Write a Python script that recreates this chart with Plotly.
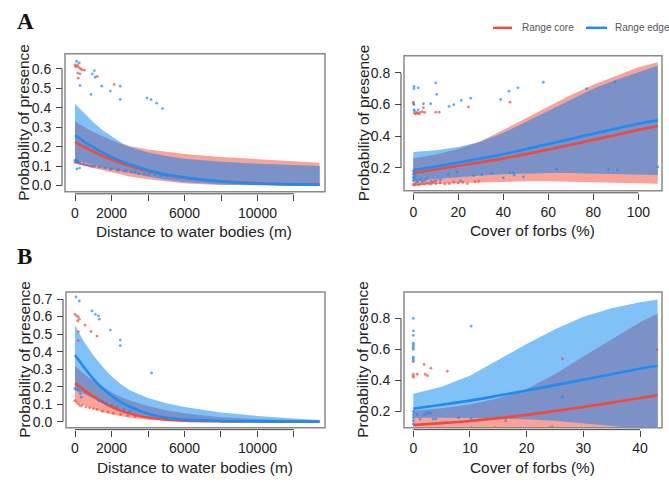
import numpy as np
import plotly.graph_objects as go

# ---------------- Data ----------------
# Panel A, left: distance to water bodies
a_dist_x = [0, 500, 1000, 1500, 2000, 2500, 3000, 4000, 5000, 6000, 8000, 10000, 12000, 13400]
a_dist_core_fit = [0.225, 0.198, 0.175, 0.153, 0.134, 0.116, 0.101, 0.075, 0.055, 0.040, 0.022, 0.012, 0.007, 0.005]
a_dist_edge_fit = [0.258, 0.225, 0.196, 0.170, 0.147, 0.127, 0.109, 0.079, 0.057, 0.041, 0.021, 0.011, 0.006, 0.004]
a_dist_core_hi = [0.33, 0.30, 0.275, 0.252, 0.232, 0.215, 0.203, 0.185, 0.172, 0.162, 0.147, 0.135, 0.124, 0.117]
a_dist_core_lo = [0.115, 0.102, 0.090, 0.078, 0.067, 0.057, 0.047, 0.032, 0.020, 0.011, 0.003, 0.001, 0.0, 0.0]
a_dist_edge_hi = [0.42, 0.37, 0.325, 0.285, 0.252, 0.223, 0.198, 0.170, 0.152, 0.138, 0.122, 0.112, 0.104, 0.100]
a_dist_edge_lo = [0.13, 0.118, 0.106, 0.095, 0.084, 0.074, 0.064, 0.046, 0.030, 0.018, 0.005, 0.002, 0.001, 0.0005]

a_dist_core_pts_x = [0, 40, 90, 150, 220, 300, 370, 510, 146, 180, 1220, 2150,
                     0, 60, 120, 200, 300, 450, 600, 800, 1000, 1300, 1600, 1900, 2300, 2700, 3100, 3500, 4000]
a_dist_core_pts_y = [0.619, 0.61, 0.612, 0.62, 0.607, 0.60, 0.595, 0.592, 0.578, 0.551, 0.56, 0.519,
                     0.12, 0.118, 0.122, 0.115, 0.112, 0.11, 0.105, 0.10, 0.098, 0.095, 0.09, 0.085, 0.08, 0.075, 0.07, 0.06, 0.055]
a_dist_edge_pts_x = [93, 236, 274, 948, 1058, 1100, 274, 1463, 2482, 877, 1934, 2482, 3945, 4164, 4471, 4800,
                     0, 30, 80, 150, 200, 250, 100, 250, 500, 700, 900, 1100, 1400, 1700, 2000, 2400, 2800, 3300, 3800, 4100, 4400, 4700, 5000]
a_dist_edge_pts_y = [0.638, 0.63, 0.573, 0.573, 0.59, 0.556, 0.514, 0.51, 0.51, 0.468, 0.485, 0.442, 0.449, 0.441, 0.423, 0.395,
                     0.13, 0.125, 0.128, 0.122, 0.12, 0.118, 0.085, 0.09, 0.11, 0.105, 0.10, 0.10, 0.095, 0.09, 0.085, 0.08, 0.075, 0.07, 0.06, 0.065, 0.055, 0.05, 0.048]

# Panel A, right: cover of forbs
a_forb_x = [0, 10, 20, 30, 40, 50, 60, 70, 80, 90, 100, 108.6]
a_forb_core_fit = [0.168, 0.19, 0.213, 0.236, 0.26, 0.287, 0.316, 0.346, 0.377, 0.408, 0.44, 0.465]
a_forb_edge_fit = [0.186, 0.209, 0.234, 0.259, 0.286, 0.318, 0.351, 0.383, 0.416, 0.448, 0.479, 0.50]
a_forb_core_hi = [0.26, 0.285, 0.32, 0.37, 0.44, 0.515, 0.59, 0.66, 0.725, 0.78, 0.835, 0.867]
a_forb_core_lo = [0.09, 0.098, 0.105, 0.11, 0.113, 0.115, 0.115, 0.113, 0.11, 0.107, 0.103, 0.10]
a_forb_edge_hi = [0.30, 0.312, 0.332, 0.365, 0.42, 0.49, 0.565, 0.635, 0.70, 0.755, 0.805, 0.846]
a_forb_edge_lo = [0.118, 0.13, 0.142, 0.152, 0.16, 0.165, 0.167, 0.167, 0.165, 0.162, 0.158, 0.155]

a_forb_core_pts_x = [0, 0, 0.5, 1, 1.5, 2, 2.5, 3, 4, 4.5, 5, 10, 11.5, 24.5, 43,
                     0, 0.5, 1, 2, 3, 4, 5, 6, 7, 8, 9, 10, 12, 14, 16, 18, 20, 22, 24, 27.4, 29]
a_forb_core_pts_y = [0.615, 0.605, 0.545, 0.54, 0.55, 0.545, 0.54, 0.55, 0.555, 0.58, 0.55, 0.552, 0.552, 0.585, 0.615,
                     0.095, 0.09, 0.10, 0.092, 0.095, 0.10, 0.097, 0.105, 0.10, 0.098, 0.11, 0.10, 0.105, 0.098, 0.10, 0.11, 0.105, 0.108, 0.10, 0.112, 0.115]
a_forb_edge_pts_x = [0.3, 0.3, 2.2, 10, 10.4, 0.3, 0.3, 0.5, 2.1, 4.5, 7.7, 15.9, 18, 21.3, 25.5, 38.8, 42.5, 46.5, 57.8, 77, 89.6,
                     0, 0, 0, 0, 0.5, 1, 1.5, 2, 3, 4, 5, 6, 8, 10, 12, 15.6, 19.3, 21, 26.7, 30.4, 34.8, 40, 42.9, 44.5, 44.8, 48.9, 63.7, 86.7, 90.7, 108.6]
a_forb_edge_pts_y = [0.714, 0.70, 0.706, 0.737, 0.664, 0.599, 0.567, 0.56, 0.567, 0.605, 0.605, 0.588, 0.599, 0.626, 0.64, 0.632, 0.684, 0.706, 0.741, 0.70, 0.741,
                     0.18, 0.16, 0.14, 0.12, 0.13, 0.15, 0.12, 0.11, 0.125, 0.115, 0.12, 0.13, 0.115, 0.12, 0.125, 0.16, 0.175, 0.12, 0.15, 0.158, 0.165, 0.137, 0.168, 0.17, 0.155, 0.143, 0.192, 0.19, 0.186, 0.206]

# Panel B, left: distance to water bodies
b_dist_x = [0, 250, 500, 1000, 1500, 2000, 2500, 3000, 4000, 5000, 6000, 8000, 10000, 12000, 13400]
b_dist_core_fit = [0.22, 0.20, 0.18, 0.145, 0.113, 0.085, 0.063, 0.047, 0.024, 0.012, 0.006, 0.002, 0.001, 0.0, 0.0]
b_dist_edge_fit = [0.38, 0.345, 0.31, 0.245, 0.192, 0.148, 0.113, 0.085, 0.045, 0.022, 0.012, 0.004, 0.002, 0.001, 0.0005]
b_dist_core_hi = [0.32, 0.295, 0.272, 0.232, 0.197, 0.167, 0.142, 0.121, 0.09, 0.066, 0.048, 0.026, 0.015, 0.009, 0.006]
b_dist_core_lo = [0.12, 0.107, 0.095, 0.074, 0.056, 0.042, 0.031, 0.022, 0.011, 0.005, 0.002, 0.0, 0.0, 0.0, 0.0]
b_dist_edge_hi = [0.55, 0.50, 0.455, 0.38, 0.315, 0.26, 0.215, 0.18, 0.135, 0.105, 0.084, 0.053, 0.033, 0.018, 0.010]
b_dist_edge_lo = [0.19, 0.175, 0.16, 0.132, 0.107, 0.085, 0.067, 0.052, 0.03, 0.016, 0.008, 0.002, 0.001, 0.0, 0.0]

b_dist_core_pts_x = [0, 93, 183, 237, 146, 548, 877, 1205, 183, 183,
                     0, 100, 200, 300, 400, 600, 800, 1000, 1200, 1500, 1800, 2100, 2500, 2900, 3300]
b_dist_core_pts_y = [0.613, 0.604, 0.598, 0.585, 0.575, 0.551, 0.515, 0.489, 0.513, 0.462,
                     0.12, 0.11, 0.10, 0.09, 0.095, 0.085, 0.08, 0.075, 0.07, 0.06, 0.055, 0.048, 0.042, 0.035, 0.03]
b_dist_edge_pts_x = [55, 237, 932, 1114, 1279, 1333, 1936, 2482, 2482, 4200,
                     0, 50, 150, 250, 300, 350, 1300, 1500, 1700, 2000, 2300, 2700, 3000]
b_dist_edge_pts_y = [0.712, 0.689, 0.632, 0.613, 0.604, 0.585, 0.523, 0.466, 0.434, 0.278,
                     0.19, 0.185, 0.18, 0.175, 0.16, 0.14, 0.12, 0.115, 0.105, 0.095, 0.085, 0.07, 0.06]

# Panel B, right: cover of forbs
b_forb_x = [0, 5, 10, 15, 20, 25, 30, 35, 40, 43.1]
b_forb_core_fit = [0.113, 0.125, 0.139, 0.157, 0.178, 0.203, 0.229, 0.257, 0.287, 0.305]
b_forb_edge_fit = [0.218, 0.243, 0.27, 0.302, 0.335, 0.37, 0.405, 0.44, 0.476, 0.495]
b_forb_core_hi = [0.205, 0.22, 0.245, 0.285, 0.345, 0.44, 0.555, 0.665, 0.775, 0.83]
b_forb_core_lo = [0.07, 0.073, 0.075, 0.076, 0.075, 0.072, 0.067, 0.06, 0.052, 0.046]
b_forb_edge_hi = [0.315, 0.36, 0.43, 0.535, 0.635, 0.73, 0.81, 0.865, 0.905, 0.922]
b_forb_edge_lo = [0.16, 0.16, 0.158, 0.155, 0.15, 0.14, 0.125, 0.108, 0.09, 0.08]

b_forb_core_pts_x = [0, 0, 0, 0, 0.7, 1.9, 2.1, 2.5, 3.1, 6, 26.3, 43,
                     0, 0.3, 0.7, 1, 1.5, 2, 2.5, 3, 3.5, 4, 4.5, 5.5, 8.5, 10.2, 14.5, 16.3, 24, 24.5]
b_forb_core_pts_y = [0.52, 0.44, 0.43, 0.42, 0.44, 0.503, 0.44, 0.431, 0.479, 0.46, 0.54, 0.60,
                     0.07, 0.075, 0.065, 0.068, 0.07, 0.072, 0.065, 0.07, 0.068, 0.072, 0.07, 0.075, 0.085, 0.095, 0.095, 0.085, 0.095, 0.10]
b_forb_edge_pts_x = [0, 0, 0, 0, 0, 0, 0, 0, 0, 0, 0, 10.2,
                     26.3, 0, 0, 0, 0, 0, 0.7, 1.2, 2, 2.5, 3, 3.5, 4, 8, 10.2, 16.3]
b_forb_edge_pts_y = [0.80, 0.72, 0.69, 0.64, 0.63, 0.62, 0.61, 0.60, 0.55, 0.54, 0.53, 0.75,
                     0.295, 0.20, 0.18, 0.16, 0.14, 0.12, 0.18, 0.15, 0.18, 0.19, 0.19, 0.15, 0.15, 0.16, 0.155, 0.14]

legend_labels = ["Range core", "Range edge"]
y_title = "Probability of presence"
x_title_dist = "Distance to water bodies (m)"
x_title_forb = "Cover of forbs (%)"

# ---------------- Styles ----------------
W, H = 669, 485
FONT = "Liberation Sans, Arial, sans-serif"
RED_LINE = "#F04A3A"
BLUE_LINE = "#1E8CF2"
RED_FILL = "#FAA198"
BLUE_FILL = "#80C2F8"
OVER_FILL = "#7B91C7"
BOX = "#8A8A8A"
AX = "#444444"
TICK_SIZE = 14
TITLE_SIZE = 15.4

fig = go.Figure()


def add_panel(idx, x, cfit, efit, chi, clo, ehi, elo, cpx, cpy, epx, epy):
    xa = "x" if idx == 1 else f"x{idx}"
    ya = "y" if idx == 1 else f"y{idx}"
    x = np.asarray(x, float)
    chi, clo, ehi, elo = map(lambda a: np.asarray(a, float), (chi, clo, ehi, elo))
    olo = np.maximum(clo, elo)
    ohi = np.maximum(np.minimum(chi, ehi), olo)
    xx = np.concatenate([x, x[::-1]])
    for hi, lo, col in ((chi, clo, RED_FILL), (ehi, elo, BLUE_FILL), (ohi, olo, OVER_FILL)):
        fig.add_trace(go.Scatter(x=xx, y=np.concatenate([hi, lo[::-1]]), mode="lines",
                                 fill="toself", fillcolor=col, line=dict(width=0),
                                 hoverinfo="skip", showlegend=False, xaxis=xa, yaxis=ya))
    fig.add_trace(go.Scatter(x=x, y=cfit, mode="lines", line=dict(color=RED_LINE, width=2.6, shape="spline"),
                             showlegend=False, xaxis=xa, yaxis=ya))
    fig.add_trace(go.Scatter(x=x, y=efit, mode="lines", line=dict(color=BLUE_LINE, width=2.6, shape="spline"),
                             showlegend=False, xaxis=xa, yaxis=ya))
    fig.add_trace(go.Scatter(x=cpx, y=cpy, mode="markers", marker=dict(color=RED_LINE, size=2.8, opacity=0.7),
                             showlegend=False, xaxis=xa, yaxis=ya))
    fig.add_trace(go.Scatter(x=epx, y=epy, mode="markers", marker=dict(color=BLUE_LINE, size=2.8, opacity=0.7),
                             showlegend=False, xaxis=xa, yaxis=ya))


add_panel(1, a_dist_x, a_dist_core_fit, a_dist_edge_fit, a_dist_core_hi, a_dist_core_lo, a_dist_edge_hi, a_dist_edge_lo,
          a_dist_core_pts_x, a_dist_core_pts_y, a_dist_edge_pts_x, a_dist_edge_pts_y)
add_panel(2, a_forb_x, a_forb_core_fit, a_forb_edge_fit, a_forb_core_hi, a_forb_core_lo, a_forb_edge_hi, a_forb_edge_lo,
          a_forb_core_pts_x, a_forb_core_pts_y, a_forb_edge_pts_x, a_forb_edge_pts_y)
add_panel(3, b_dist_x, b_dist_core_fit, b_dist_edge_fit, b_dist_core_hi, b_dist_core_lo, b_dist_edge_hi, b_dist_edge_lo,
          b_dist_core_pts_x, b_dist_core_pts_y, b_dist_edge_pts_x, b_dist_edge_pts_y)
add_panel(4, b_forb_x, b_forb_core_fit, b_forb_edge_fit, b_forb_core_hi, b_forb_core_lo, b_forb_edge_hi, b_forb_edge_lo,
          b_forb_core_pts_x, b_forb_core_pts_y, b_forb_edge_pts_x, b_forb_edge_pts_y)

# panel geometry (pixels) and axis settings
panels = {
    1: dict(px=(65, 325), py=(53, 192), xr=[-548, 13699], yr=[-0.032, 0.677],
            xt=[0, 2000, 4000, 6000, 8000, 10000, 12000], xl=["0", "2000", "", "6000", "", "10000", ""],
            yt=[0, 0.1, 0.2, 0.3, 0.4, 0.5, 0.6], yl=["0.0", "0.1", "0.2", "0.3", "0.4", "0.5", "0.6"], xtitle=x_title_dist),
    2: dict(px=(404, 662), py=(55, 191), xr=[-4.13, 110.5], yr=[0.055, 0.909],
            xt=[0, 20, 40, 60, 80, 100], xl=["0", "20", "40", "60", "80", "100"],
            yt=[0.2, 0.4, 0.6, 0.8], yl=["0.2", "0.4", "0.6", "0.8"], xtitle=x_title_forb),
    3: dict(px=(66, 325), py=(292.7, 429.3), xr=[-493, 13699], yr=[-0.034, 0.741],
            xt=[0, 2000, 4000, 6000, 8000, 10000, 12000], xl=["0", "2000", "", "6000", "", "10000", ""],
            yt=[0, 0.1, 0.2, 0.3, 0.4, 0.5, 0.6, 0.7], yl=["0.0", "0.1", "0.2", "0.3", "0.4", "0.5", "0.6", "0.7"], xtitle=x_title_dist),
    4: dict(px=(404, 662), py=(292.7, 429.3), xr=[-1.64, 43.88], yr=[0.0957, 0.971],
            xt=[0, 10, 20, 30, 40], xl=["0", "10", "20", "30", "40"],
            yt=[0.2, 0.4, 0.6, 0.8], yl=["0.2", "0.4", "0.6", "0.8"], xtitle=x_title_forb),
}

layout = dict(width=W, height=H, margin=dict(l=0, r=0, t=0, b=0),
              paper_bgcolor="white", plot_bgcolor="white", showlegend=False,
              font=dict(family=FONT, color="#222"))
shapes = []
annotations = []
for i, p in panels.items():
    xd = [p["px"][0] / W, p["px"][1] / W]
    yd = [1 - p["py"][1] / H, 1 - p["py"][0] / H]
    sfx = "" if i == 1 else str(i)
    common = dict(showgrid=False, zeroline=False, showline=False, ticks="outside", ticklen=6,
                  tickcolor=AX, tickwidth=1, tickfont=dict(size=TICK_SIZE, family=FONT, color="#222"), fixedrange=True)
    layout[f"xaxis{sfx}"] = dict(common, domain=xd, range=p["xr"], anchor="free",
                                 position=max(yd[0] - 2 / H, 0), tickmode="array", tickvals=p["xt"], ticktext=p["xl"])
    layout[f"yaxis{sfx}"] = dict(common, domain=yd, range=p["yr"], anchor="free", ticklabelstandoff=2,
                                 position=xd[0] - 3 / W, tickmode="array", tickvals=p["yt"], ticktext=p["yl"])
    xa = "x" if i == 1 else f"x{i}"
    ya = "y" if i == 1 else f"y{i}"
    # plot box
    shapes.append(dict(type="rect", xref=f"{xa} domain", yref=f"{ya} domain", x0=0, x1=1, y0=0, y1=1,
                       line=dict(color=BOX, width=1.5)))
    # axis lines spanning first to last tick (R style)
    shapes.append(dict(type="line", xref="paper", yref=ya, x0=xd[0] - 3 / W, x1=xd[0] - 3 / W,
                       y0=p["yt"][0], y1=p["yt"][-1], line=dict(color=AX, width=1)))
    shapes.append(dict(type="line", xref=xa, yref="paper", x0=p["xt"][0], x1=p["xt"][-1],
                       y0=yd[0] - 2 / H, y1=yd[0] - 2 / H, line=dict(color=AX, width=1)))
    # axis titles
    cx = (p["px"][0] + p["px"][1]) / 2
    cy = (p["py"][0] + p["py"][1]) / 2
    annotations.append(dict(text=p["xtitle"], xref="paper", yref="paper", x=(cx - 1) / W, y=1 - (p["py"][1] + 40) / H,
                            xanchor="center", yanchor="middle", showarrow=False,
                            font=dict(size=TITLE_SIZE, family=FONT, color="#222")))
    annotations.append(dict(text=y_title, xref="paper", yref="paper", x=(p["px"][0] - 41) / W, y=1 - cy / H,
                            xanchor="center", yanchor="middle", textangle=-90, showarrow=False,
                            font=dict(size=TITLE_SIZE, family=FONT, color="#222")))

# panel letters
for letter, yy in (("A", 20.5), ("B", 257.5)):
    annotations.append(dict(text=f"<b>{letter}</b>", xref="paper", yref="paper", x=15 / W, y=1 - yy / H,
                            xanchor="left", yanchor="middle", showarrow=False,
                            font=dict(size=23, family="Liberation Serif, Times New Roman, serif", color="#111")))

# legend
for lab, col, x0, x1, tx in ((legend_labels[0], RED_LINE, 493, 512, 520), (legend_labels[1], BLUE_LINE, 586, 607, 613)):
    shapes.append(dict(type="line", xref="paper", yref="paper", x0=x0 / W, x1=x1 / W, y0=1 - 27 / H, y1=1 - 27 / H,
                       line=dict(color=col, width=2.5)))
    annotations.append(dict(text=lab, xref="paper", yref="paper", x=tx / W, y=1 - 27 / H, xanchor="left",
                            yanchor="middle", showarrow=False, font=dict(size=10, family=FONT, color="#555")))

layout["shapes"] = shapes
layout["annotations"] = annotations
fig.update_layout(**layout)
fig.write_html("out.html", config={"displayModeBar": False},
               post_script="document.body.style.margin='0';document.body.style.padding='0';")
